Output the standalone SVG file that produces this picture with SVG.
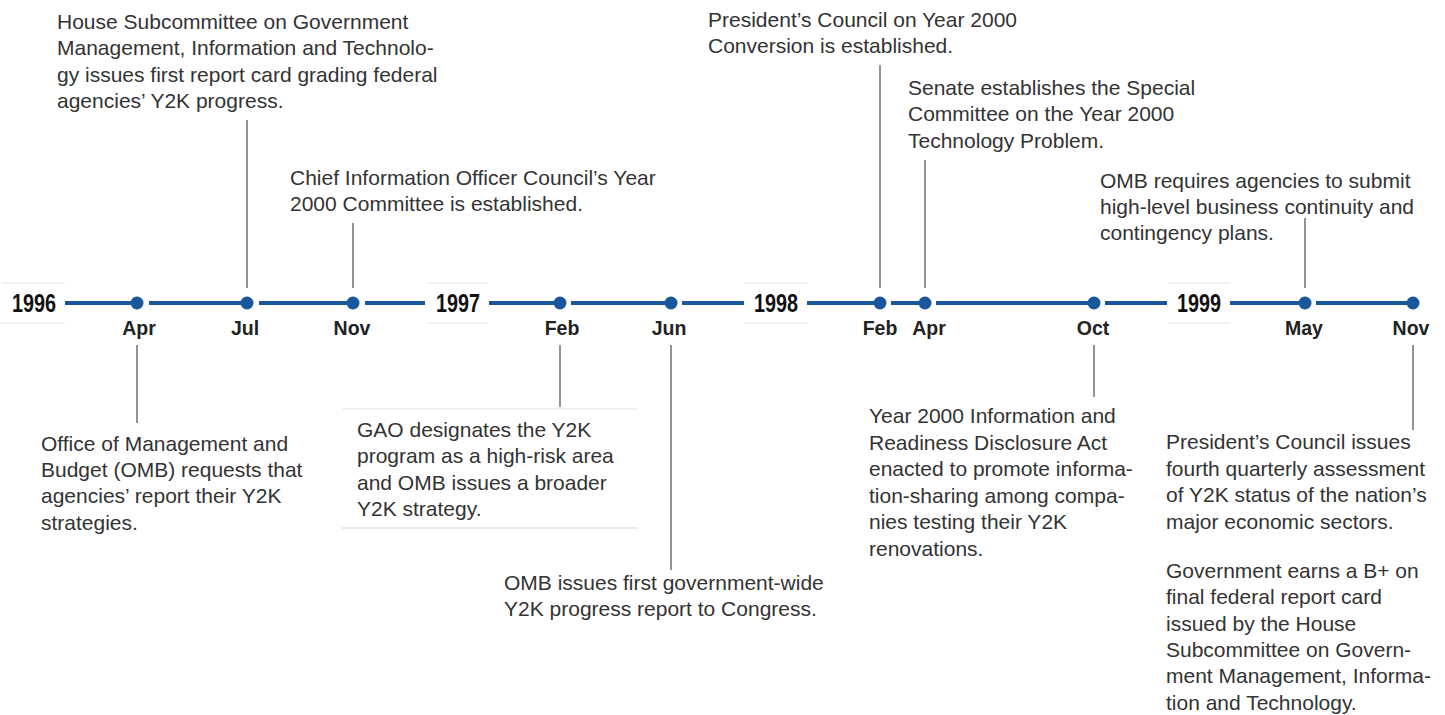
<svg xmlns="http://www.w3.org/2000/svg" width="1445" height="715" viewBox="0 0 1445 715">
<style>
.txt{font-family:"Liberation Sans",Arial,sans-serif;font-size:21px;fill:#333}
.mon{font-family:"Liberation Sans",Arial,sans-serif;font-size:19.5px;font-weight:bold;fill:#222;text-anchor:middle}
.yr{font-family:"Liberation Sans",Arial,sans-serif;font-size:25px;font-weight:bold;fill:#111}
.seg{stroke:#18579b;stroke-width:4;fill:none}
.dot{fill:#18579b}
.con{stroke:#6e6e6e;stroke-width:1.5}
.faint{stroke:#e6e6e6;stroke-width:1}
</style>
<rect width="1445" height="715" fill="#fff"/>
<g id="faint-rules">
<line class="faint" x1="2" y1="283" x2="65" y2="283"/><line class="faint" x1="0" y1="323" x2="65" y2="323"/>
<line class="faint" x1="427" y1="283" x2="488" y2="283"/><line class="faint" x1="427" y1="323" x2="488" y2="323"/>
<line class="faint" x1="745" y1="283" x2="807" y2="283"/><line class="faint" x1="745" y1="323" x2="807" y2="323"/>
<line class="faint" x1="1168" y1="283" x2="1230" y2="283"/><line class="faint" x1="1168" y1="323" x2="1230" y2="323"/>
<line class="faint" x1="342" y1="409" x2="638" y2="409"/><line x1="342" y1="528" x2="638" y2="528" stroke="#d6d6d6" stroke-width="1"/>
</g>
<g id="timeline">
<line class="seg" x1="65" y1="303" x2="137" y2="303"/>
<line class="seg" x1="149" y1="303" x2="247" y2="303"/>
<line class="seg" x1="259" y1="303" x2="353" y2="303"/>
<line class="seg" x1="365" y1="303" x2="425" y2="303"/>
<line class="seg" x1="489" y1="303" x2="560" y2="303"/>
<line class="seg" x1="571" y1="303" x2="671" y2="303"/>
<line class="seg" x1="682" y1="303" x2="744" y2="303"/>
<line class="seg" x1="807" y1="303" x2="880" y2="303"/>
<line class="seg" x1="891" y1="303" x2="925" y2="303"/>
<line class="seg" x1="936" y1="303" x2="1094" y2="303"/>
<line class="seg" x1="1105" y1="303" x2="1167" y2="303"/>
<line class="seg" x1="1230" y1="303" x2="1305" y2="303"/>
<line class="seg" x1="1316" y1="303" x2="1413" y2="303"/>
</g>
<g id="years">
<text class="yr" x="12" y="312" textLength="44" lengthAdjust="spacingAndGlyphs">1996</text>
<text class="yr" x="436" y="312" textLength="44" lengthAdjust="spacingAndGlyphs">1997</text>
<text class="yr" x="754" y="312" textLength="44" lengthAdjust="spacingAndGlyphs">1998</text>
<text class="yr" x="1177" y="312" textLength="44" lengthAdjust="spacingAndGlyphs">1999</text>
</g>
<g id="connectors">
<line class="con" x1="137" y1="345" x2="137" y2="423"/>
<line class="con" x1="247" y1="120" x2="247" y2="288"/>
<line class="con" x1="353" y1="223" x2="353" y2="288"/>
<line class="con" x1="560" y1="345" x2="560" y2="407"/>
<line class="con" x1="671" y1="345" x2="671" y2="570"/>
<line class="con" x1="880" y1="65" x2="880" y2="288"/>
<line class="con" x1="925" y1="160" x2="925" y2="288"/>
<line class="con" x1="1094" y1="345" x2="1094" y2="397"/>
<line class="con" x1="1305" y1="218" x2="1305" y2="288"/>
<line class="con" x1="1413" y1="345" x2="1413" y2="430"/>
</g>
<g id="n-apr96"><circle class="dot" cx="137" cy="303" r="6.5"/><text class="mon" x="139" y="335">Apr</text>
<text class="txt"><tspan x="41" y="451">Office of Management and</tspan><tspan x="41" y="477">Budget (OMB) requests that</tspan><tspan x="41" y="503">agencies’ report their Y2K</tspan><tspan x="41" y="530">strategies.</tspan></text></g>
<g id="n-jul96"><circle class="dot" cx="247" cy="303" r="6.5"/><text class="mon" x="245" y="335">Jul</text>
<text class="txt"><tspan x="57" y="29">House Subcommittee on Government</tspan><tspan x="57" y="55">Management, Information and Technolo-</tspan><tspan x="57" y="82">gy issues first report card grading federal</tspan><tspan x="57" y="108">agencies’ Y2K progress.</tspan></text></g>
<g id="n-nov96"><circle class="dot" cx="353" cy="303" r="6.5"/><text class="mon" x="352" y="335">Nov</text>
<text class="txt"><tspan x="290" y="185">Chief Information Officer Council’s Year</tspan><tspan x="290" y="211">2000 Committee is established.</tspan></text></g>
<g id="n-feb97"><circle class="dot" cx="560" cy="303" r="6.5"/><text class="mon" x="562" y="335">Feb</text>
<text class="txt"><tspan x="357" y="437">GAO designates the Y2K</tspan><tspan x="357" y="463">program as a high-risk area</tspan><tspan x="357" y="490">and OMB issues a broader</tspan><tspan x="357" y="516">Y2K strategy.</tspan></text></g>
<g id="n-jun97"><circle class="dot" cx="671" cy="303" r="6.5"/><text class="mon" x="669" y="335">Jun</text>
<text class="txt"><tspan x="504" y="590">OMB issues first government-wide</tspan><tspan x="504" y="616">Y2K progress report to Congress.</tspan></text></g>
<g id="n-feb98"><circle class="dot" cx="880" cy="303" r="6.5"/><text class="mon" x="880" y="335">Feb</text>
<text class="txt"><tspan x="708" y="27">President’s Council on Year 2000</tspan><tspan x="708" y="53">Conversion is established.</tspan></text></g>
<g id="n-apr98"><circle class="dot" cx="925" cy="303" r="6.5"/><text class="mon" x="929" y="335">Apr</text>
<text class="txt"><tspan x="908" y="95">Senate establishes the Special</tspan><tspan x="908" y="121">Committee on the Year 2000</tspan><tspan x="908" y="148">Technology Problem.</tspan></text></g>
<g id="n-oct98"><circle class="dot" cx="1094" cy="303" r="6.5"/><text class="mon" x="1093" y="335">Oct</text>
<text class="txt"><tspan x="869" y="423">Year 2000 Information and</tspan><tspan x="869" y="450">Readiness Disclosure Act</tspan><tspan x="869" y="476">enacted to promote informa-</tspan><tspan x="869" y="503">tion-sharing among compa-</tspan><tspan x="869" y="529">nies testing their Y2K</tspan><tspan x="869" y="556">renovations.</tspan></text></g>
<g id="n-may99"><circle class="dot" cx="1305" cy="303" r="6.5"/><text class="mon" x="1304" y="335">May</text>
<text class="txt"><tspan x="1100" y="188">OMB requires agencies to submit</tspan><tspan x="1100" y="214">high-level business continuity and</tspan><tspan x="1100" y="240">contingency plans.</tspan></text></g>
<g id="n-nov99"><circle class="dot" cx="1413" cy="303" r="6.5"/><text class="mon" x="1411" y="335">Nov</text>
<text class="txt"><tspan x="1166" y="449">President’s Council issues</tspan><tspan x="1166" y="476">fourth quarterly assessment</tspan><tspan x="1166" y="502">of Y2K status of the nation’s</tspan><tspan x="1166" y="529">major economic sectors.</tspan><tspan x="1166" y="578">Government earns a B+ on</tspan><tspan x="1166" y="604">final federal report card</tspan><tspan x="1166" y="631">issued by the House</tspan><tspan x="1166" y="657">Subcommittee on Govern-</tspan><tspan x="1166" y="683">ment Management, Informa-</tspan><tspan x="1166" y="710">tion and Technology.</tspan></text></g>
</svg>
